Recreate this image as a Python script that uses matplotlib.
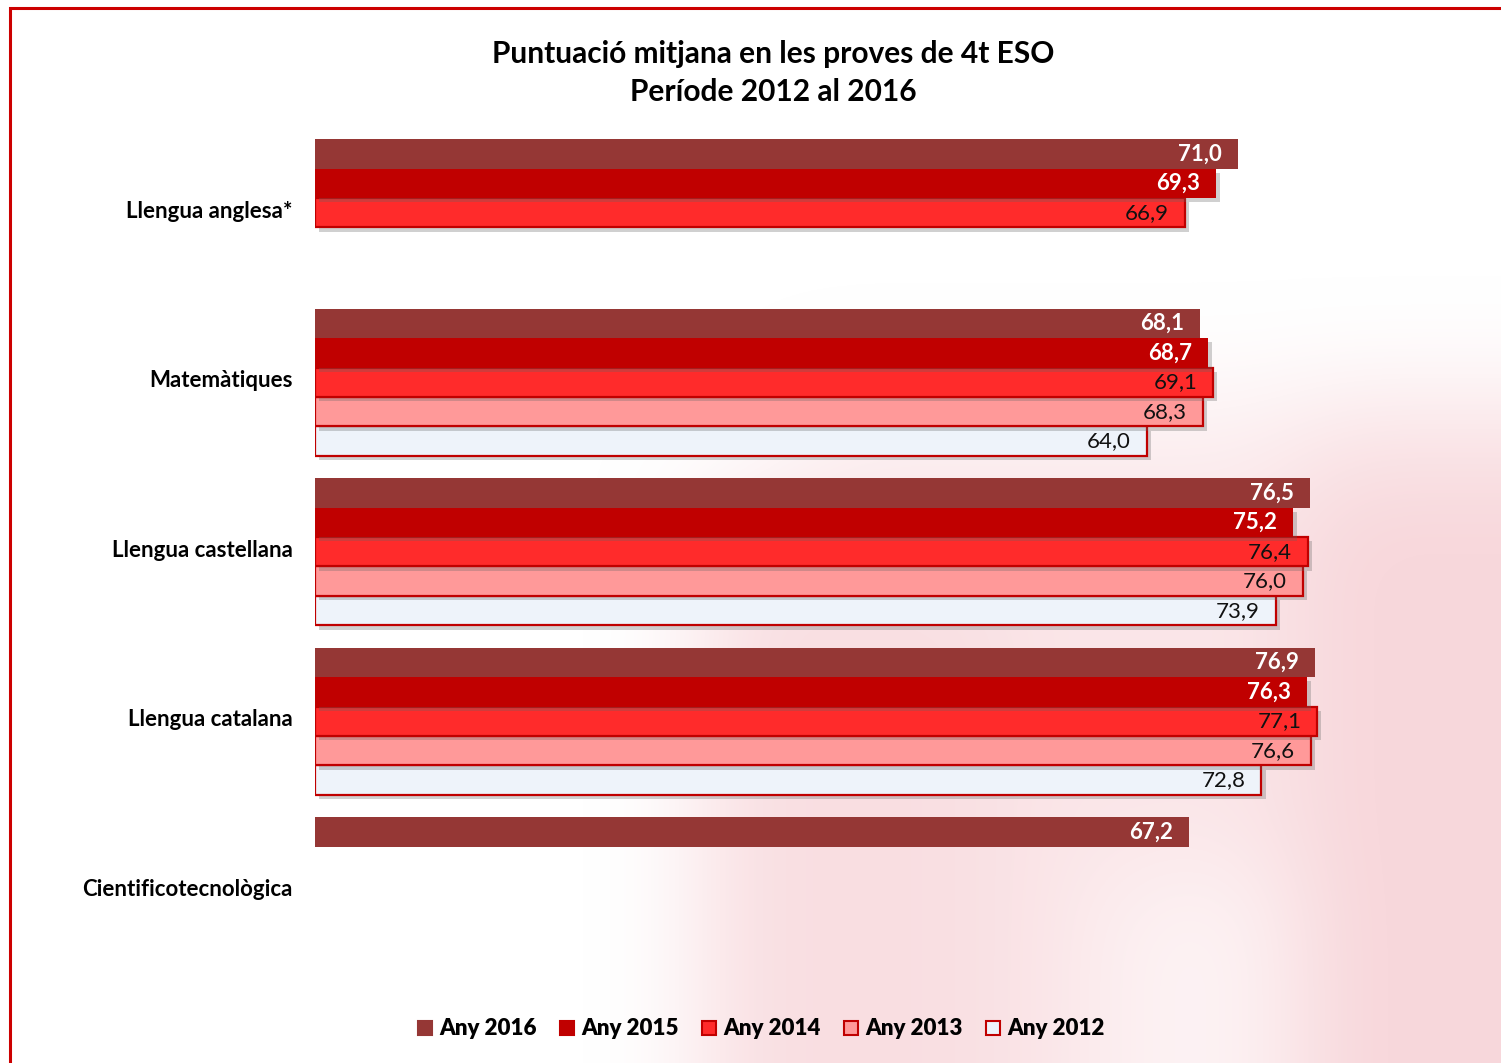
import numpy as np
import matplotlib.pyplot as plt
import matplotlib.patheffects as pe
from matplotlib.patches import Rectangle
from matplotlib.lines import Line2D
from matplotlib.colors import LinearSegmentedColormap
from matplotlib.font_manager import FontProperties

plt.rcParams['font.family'] = ['Lato', 'DejaVu Sans']

categories = ["Llengua anglesa*", "Matemàtiques", "Llengua castellana",
              "Llengua catalana", "Cientificotecnològica"]
years = ["Any 2016", "Any 2015", "Any 2014", "Any 2013", "Any 2012"]
v2016 = [71.0, 68.1, 76.5, 76.9, 67.2]
v2015 = [69.3, 68.7, 75.2, 76.3, np.nan]
v2014 = [66.9, 69.1, 76.4, 77.1, np.nan]
v2013 = [np.nan, 68.3, 76.0, 76.6, np.nan]
v2012 = [np.nan, 64.0, 73.9, 72.8, np.nan]
series = [v2016, v2015, v2014, v2013, v2012]

faces = ["#953735", "#C00000", "#FF2B2B", "#FF9999", "#EEF3FA"]
edges = ["#953735", "#C00000", "#C00000", "#C00000", "#C00000"]
txt_col = ["white", "white", "#111111", "#111111", "#111111"]
txt_w = ["bold", "bold", "normal", "normal", "normal"]
shadow = [False, True, True, True, True]

fig = plt.figure(figsize=(15.01, 10.63), dpi=100)
fig.patch.set_facecolor("white")

# faint pink watermark in the background (soft blob)
bg = fig.add_axes([0, 0, 1, 1], zorder=-5)
wm = np.zeros((11, 15))
wm[5:, 7:] = 0.5
wm[6:, 7:10] = 0.65
wm[5:, 13:] = 0.8
wm[9:, 11:13] = 0.25
wm[4, 8:] = 0.3
wm[4, 13:] = 0.5
bg.imshow(wm, extent=(0, 1, 0, 1), aspect="auto", interpolation="bicubic",
          cmap=LinearSegmentedColormap.from_list("wm", ["#FFFFFF", "#F6CDD2"]),
          vmin=0, vmax=1)
bg.axis("off")

ax = fig.add_axes([315 / 1501, 1 - 975.5 / 1063, 1144 / 1501, 847.5 / 1063])
ax.set_facecolor("none")

h = 0.174
y = np.arange(len(categories))
for j, vals in enumerate(series):
    pos = y - 2.5 * h + h * (j + 0.5)
    effects = [pe.SimplePatchShadow(offset=(3, -3), shadow_rgbFace="#666666", alpha=0.3),
               pe.Normal()] if shadow[j] else None
    bars = ax.barh(pos, vals, height=h, color=faces[j], edgecolor=edges[j],
                   linewidth=1.6 if j >= 2 else 0, zorder=5 - j * 0.1)
    for b, v in zip(bars, vals):
        if np.isnan(v):
            continue
        if effects:
            b.set_path_effects(effects)
        ax.annotate(f"{v:.1f}".replace(".", ","), (v, b.get_y() + h / 2),
                    xytext=(-11.5, 0), textcoords="offset points",
                    ha="right", va="center", fontsize=16, color=txt_col[j],
                    fontweight=txt_w[j], zorder=10)

ax.set_xlim(0, 88)
ax.set_ylim(len(categories) - 0.5, -0.5)
ax.set_yticks(y - 0.02)
ax.set_yticklabels(categories, fontsize=16, fontweight="bold")
ax.tick_params(axis="y", length=0, pad=16)
ax.set_xticks([])
for s in ax.spines.values():
    s.set_visible(False)

fig.text(0.515, 0.949, "Puntuació mitjana en les proves de 4t ESO",
         ha="center", va="center", fontsize=21.5, fontweight="bold")
fig.text(0.515, 0.913, "Període 2012 al 2016",
         ha="center", va="center", fontsize=21.5, fontweight="bold")

handles = [Line2D([], [], marker="s", linestyle="none", markersize=10,
                  markerfacecolor=faces[j], markeredgecolor=edges[j],
                  markeredgewidth=1.5) for j in range(5)]
leg_font = FontProperties(family=["Lato", "DejaVu Sans"], weight="heavy", size=16)
leg = fig.legend(handles, years, loc="center", bbox_to_anchor=(0.507, 0.032), ncol=5,
                 frameon=False, handlelength=0.7, handletextpad=0.3,
                 columnspacing=1.0, prop=leg_font)

fig.patches.append(Rectangle((9.5 / 1501, -0.05), 1.1, 1 - 7.5 / 1063 + 0.05,
                             transform=fig.transFigure, fill=False,
                             edgecolor="#CC0000", linewidth=2.2, zorder=20))

fig.savefig("out.png", dpi=100)
